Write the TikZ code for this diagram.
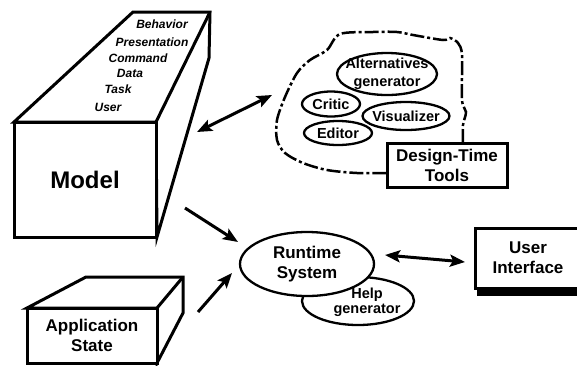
\documentclass[tikz,border=0pt]{standalone}
\usepackage{fontspec}
\setmainfont{Liberation Sans}
\usetikzlibrary{shapes.geometric,arrows.meta}

\begin{document}
\begin{tikzpicture}[x=1pt,y=-1pt,
   face/.style={draw,line width=3pt,fill=white,inner sep=2pt},
   oval/.style={ellipse,draw,line width=2.3pt,fill=white,inner sep=0pt},
   lbl/.style={align=center,font=\fontsize{17}{20}\selectfont\bfseries},
   sml/.style={align=center,font=\fontsize{14.5}{18}\selectfont\bfseries},
   kind/.style={font=\fontsize{12}{14}\selectfont\bfseries\itshape},
   blob/.style={line width=2.5pt,dash pattern=on 14pt off 3pt on 3pt off 3pt},
   tip/.tip={Stealth[length=15pt,width=12pt,inset=3pt]},
   arr/.style={line width=3pt,-tip},
   dbl/.style={line width=3pt,tip-tip}]
\useasboundingbox (0,0) rectangle (577,365);
% model block
\draw[face] (14,122) -- (133,12) -- (210,12) -- (209,58) -- (157,237) -- (156,122) -- cycle;
\draw[face] (156,122) -- (210,12);
\node[face,minimum width=142pt,minimum height=115pt,font=\fontsize{24}{26}\selectfont\bfseries] (model) at (85,179.5) {Model};
\foreach \t/\x/\y in %
{Behavior/162/24,Presentation/152/42,Command/138/58,Data/130/73,Task/118/89,User/108/107} {
   \node[kind] (\t) at (\x,\y) {\t};
}
% application state block
\draw[face] (27,308) -- (86,277) -- (183,277) -- (183,313) -- (157,363) -- (157,308) -- cycle;
\draw[face] (157,308) -- (183,277);
\node[face,minimum width=130pt,minimum height=55pt,lbl] (app) at (92,335.5) {Application\\State};
% design-time tools
\draw[blob] plot[smooth,tension=0.5] coordinates {(463,143) (463,125) (466,112) (462,100) (462,55) (458,43) (450,38) (443,40) (413,35) (397,32) (373,32) (340,34) (327,50) (310,60) (297,73) (285,97) (277,120) (277,140) (285,153) (303,163) (327,170) (357,173) (387,173)};
\node[face,minimum width=120pt,minimum height=44pt,lbl] (tools) at (447,165) {Design-Time\\Tools};
\node[oval,minimum width=100pt,minimum height=42pt] (alt) at (387,74) {};
\node[sml] at (alt) {Alternatives\\generator};
\node[oval,minimum width=58pt,minimum height=25pt] (critic) at (331,104) {};
\node[sml] at (critic) {Critic};
\node[oval,minimum width=87pt,minimum height=28pt] (vis) at (406,116) {};
\node[sml] at (vis) {Visualizer};
\node[oval,minimum width=68pt,minimum height=24pt] (editor) at (338,133) {};
\node[sml] at (editor) {Editor};
% runtime
\node[oval,minimum width=112pt,minimum height=48pt] (help) at (358,301) {};
\node[sml,font=\fontsize{14.5}{15}\selectfont\bfseries] at (367,302) {Help\\generator};
\node[oval,minimum width=134pt,minimum height=64pt] (run) at (307,264) {};
\node[lbl] at (run) {Runtime\\System};
% user interface
\node[face,minimum width=106pt,minimum height=60pt,lbl] (ui) at (528,258) {User\\Interface};
\fill ([shift={(3,0)}]ui.south west) rectangle ([shift={(6,6)}]ui.south east);
% connectors
\coordinate (m-t) at (197,132);
\coordinate (t-m) at (272,95);
\coordinate (m-r) at (185,208);
\coordinate (r-m) at (238,242);
\coordinate (a-r) at (198,312);
\coordinate (r-a) at (232,273);
\coordinate (r-u) at (385,255);
\coordinate (u-r) at (465,262);
\draw[dbl] (m-t) -- (t-m);
\draw[arr] (m-r) -- (r-m);
\draw[arr] (a-r) -- (r-a);
\draw[dbl] (r-u) -- (u-r);
\end{tikzpicture}
\end{document}
